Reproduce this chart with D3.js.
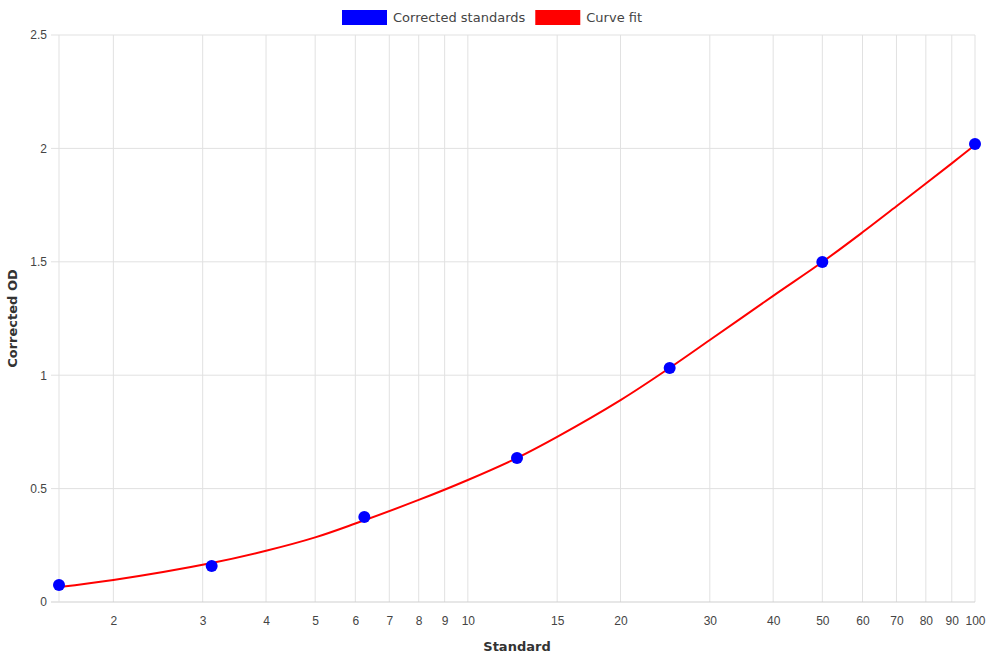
<!DOCTYPE html>
<html>
<head>
<meta charset="utf-8">
<script src="https://cdn.jsdelivr.net/npm/d3@7"></script>
<style>
  body { margin: 0; background: #fff; }
  svg { display: block; }
</style>
</head>
<body>
<div id="chart"></div>
<script>
// measured standards
const standards = [1.5625, 3.125, 6.25, 12.5, 25, 50, 100];
const correctedOD = [0.075, 0.159, 0.375, 0.635, 1.032, 1.499, 2.019];

// fitted curve
const fitX = [1.5625, 2, 3.125, 4, 5, 6, 8, 10, 12.5, 15, 20, 25, 30, 40, 50, 60, 70, 80, 90, 100];
const fitY = [0.066, 0.097, 0.172, 0.226, 0.285, 0.346, 0.45, 0.538, 0.635, 0.728, 0.89, 1.032, 1.155, 1.35, 1.499, 1.63, 1.745, 1.845, 1.934, 2.015];

const xTicks = [2, 3, 4, 5, 6, 7, 8, 9, 10, 15, 20, 30, 40, 50, 60, 70, 80, 90, 100];
const yTicks = [0, 0.5, 1, 1.5, 2, 2.5];

const width = 990;
const height = 660;
const margin = { top: 35, right: 15, bottom: 58, left: 59 };

const x = d3.scaleLog()
    .domain([1.5625, 100])
    .range([margin.left, width - margin.right]);
const y = d3.scaleLinear()
    .domain([0, 2.5])
    .range([height - margin.bottom, margin.top]);

const svg = d3.select("#chart")
    .append("svg")
    .attr("width", width)
    .attr("height", height)
    .attr("viewBox", [0, 0, width, height]);

const tickFont = "'Liberation Sans', Arial, sans-serif";
const titleFont = "'DejaVu Sans', sans-serif";

// grid lines
svg.append("g")
    .selectAll("line")
    .data(xTicks)
    .join("line")
    .attr("x1", (d) => x(d))
    .attr("x2", (d) => x(d))
    .attr("y1", margin.top)
    .attr("y2", height - margin.bottom)
    .attr("stroke", "#e1e1e1")
    .attr("stroke-width", 1);

svg.append("g")
    .selectAll("line")
    .data(yTicks)
    .join("line")
    .attr("x1", margin.left - 8)
    .attr("x2", width - margin.right)
    .attr("y1", (d) => y(d))
    .attr("y2", (d) => y(d))
    .attr("stroke", (d) => (d === 0 ? "#cfcfcf" : "#e1e1e1"))
    .attr("stroke-width", 1);

// left border
svg.append("line")
    .attr("x1", margin.left)
    .attr("x2", margin.left)
    .attr("y1", margin.top)
    .attr("y2", height - margin.bottom)
    .attr("stroke", "#e1e1e1");

// x axis
const xAxis = svg.append("g")
    .attr("transform", `translate(0,${height - margin.bottom})`)
    .call(
        d3.axisBottom(x)
            .tickValues(xTicks)
            .tickFormat(d3.format("d"))
            .tickSize(0)
            .tickPadding(14)
    );
xAxis.select(".domain").remove();
xAxis.selectAll("text")
    .attr("fill", "#444")
    .style("font-family", tickFont)
    .style("font-size", "12px");

// y axis
const yAxis = svg.append("g")
    .attr("transform", `translate(${margin.left - 8},0)`)
    .call(
        d3.axisLeft(y)
            .tickValues(yTicks)
            .tickFormat((d) => String(d))
            .tickSize(0)
            .tickPadding(4)
    );
yAxis.select(".domain").remove();
yAxis.selectAll("text")
    .attr("fill", "#444")
    .style("font-family", tickFont)
    .style("font-size", "12px");

// axis titles
svg.append("text")
    .attr("x", (margin.left + width - margin.right) / 2)
    .attr("y", 651)
    .attr("text-anchor", "middle")
    .attr("fill", "#333")
    .style("font-family", titleFont)
    .style("font-size", "13px")
    .style("font-weight", "bold")
    .text("Standard");

svg.append("text")
    .attr("transform", `translate(17,${(margin.top + height - margin.bottom) / 2}) rotate(-90)`)
    .attr("text-anchor", "middle")
    .attr("fill", "#333")
    .style("font-family", titleFont)
    .style("font-size", "13px")
    .style("font-weight", "bold")
    .text("Corrected OD");

// curve fit
const fitData = fitX.map((v, i) => ({ x: v, y: fitY[i] }));
const line = d3.line()
    .x((d) => x(d.x))
    .y((d) => y(d.y))
    .curve(d3.curveCatmullRom.alpha(0.5));

svg.append("path")
    .datum(fitData)
    .attr("fill", "none")
    .attr("stroke", "#ff0000")
    .attr("stroke-width", 2)
    .attr("d", line);

// standards
svg.append("g")
    .selectAll("circle")
    .data(standards.map((v, i) => ({ x: v, y: correctedOD[i] })))
    .join("circle")
    .attr("cx", (d) => x(d.x))
    .attr("cy", (d) => y(d.y))
    .attr("r", 6)
    .attr("fill", "#0000ff");

// legend
const legendItems = [
    { label: "Corrected standards", color: "#0000ff" },
    { label: "Curve fit", color: "#ff0000" }
];
const legend = svg.append("g");
let lx = 342;
legendItems.forEach((item) => {
    const g = legend.append("g").attr("transform", `translate(${lx},10)`);
    g.append("rect")
        .attr("width", 45)
        .attr("height", 15)
        .attr("fill", item.color);
    const t = g.append("text")
        .attr("x", 51)
        .attr("y", 12)
        .attr("fill", "#444")
        .style("font-family", titleFont)
        .style("font-size", "13px")
        .text(item.label);
    lx += 51 + t.node().getComputedTextLength() + 10;
});
</script>
</body>
</html>
